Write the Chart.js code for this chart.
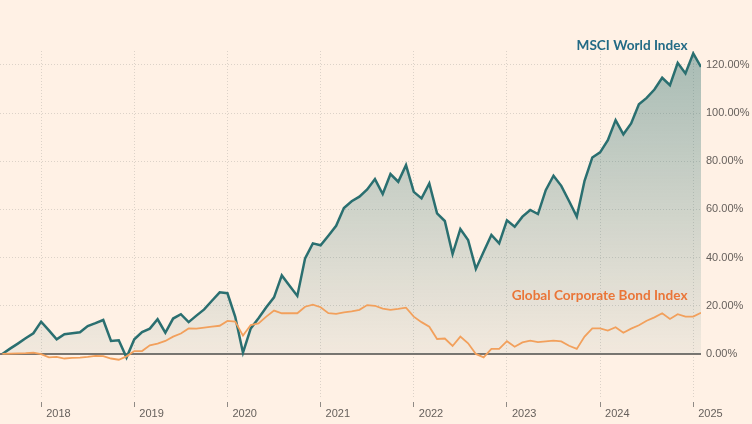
<!DOCTYPE html>
<html>
<head>
<meta charset="utf-8">
<script src="https://cdn.jsdelivr.net/npm/chart.js@4/dist/chart.umd.min.js"></script>
<style>
html,body{margin:0;padding:0;background:#FFF1E5;}
#wrap{width:752px;height:424px;}
</style>
</head>
<body>
<div id="wrap"><canvas id="c" width="752" height="424"></canvas></div>
<script>
// Month-end observations, Jul 2017 – Jan 2025
const months = [];
(function(){ let y=2017, m=7; for (let i=0;i<91;i++){ months.push(y+'-'+String(m).padStart(2,'0')); m++; if(m>12){m=1;y++;} } })();

// Cumulative return, % (MSCI World Index)
const msci = [
  0, 2.2, 4.3, 6.5, 8.6, 13.4, 9.8, 6.1, 8.2, 8.6, 9.0, 11.6,
  12.8, 14.1, 5.4, 5.7, -1.5, 6.1, 9.1, 10.5, 14.4, 8.8, 14.7, 16.5,
  13.2, 15.9, 18.5, 22.1, 25.6, 25.2, 15.4, 0.5, 10.6, 14.8, 19.4, 23.5,
  32.6, 28.3, 24.1, 39.7, 45.9, 45.1, 49.1, 53.2, 60.6, 63.4, 65.3, 68.3,
  72.6, 66.4, 74.7, 71.5, 78.4, 67.3, 64.6, 70.8, 58.4, 55.2, 41.5, 51.9,
  47.3, 35.3, 42.4, 49.4, 45.9, 55.5, 52.8, 57.0, 59.8, 58.1, 68.0, 74.0,
  69.8, 63.5, 57.0, 71.9, 81.6, 83.7, 88.8, 97.1, 91.2, 95.7, 103.7, 106.3,
  109.8, 114.7, 111.6, 120.9, 116.5, 124.8, 119.2
];

// Cumulative return, % (Global Corporate Bond Index)
const bond = [
  0, 0.1, 0.2, 0.3, 0.5, -0.1, -1.4, -1.2, -1.9, -1.6, -1.5, -1.2,
  -0.8, -0.9, -1.9, -2.4, -1.0, 1.2, 1.2, 3.6, 4.3, 5.4, 7.2, 8.5,
  10.6, 10.5, 10.9, 11.3, 11.7, 13.7, 13.4, 7.6, 12.0, 12.7, 15.5, 18.0,
  16.9, 16.9, 16.9, 19.6, 20.5, 19.4, 16.9, 16.6, 17.3, 17.7, 18.3, 20.3,
  20.0, 18.8, 18.3, 18.7, 19.2, 15.5, 13.2, 11.3, 6.2, 6.4, 3.3, 7.2,
  4.4, 0.0, -1.4, 2.1, 2.1, 5.3, 3.0, 4.8, 5.5, 4.9, 5.2, 5.5,
  5.2, 3.4, 2.1, 7.2, 10.6, 10.6, 9.7, 11.1, 8.8, 10.5, 11.9, 13.8,
  15.2, 16.9, 14.5, 16.5, 15.5, 15.5, 17.1
];

const yearLabels = ['2018','2019','2020','2021','2022','2023','2024','2025'];
const yTickValues = [0, 20, 40, 60, 80, 100, 120];
const seriesNames = ['MSCI World Index', 'Global Corporate Bond Index'];

const teal = '#2A6F70';
const orange = '#F2A05C';

// year boundary ticks sit at the December month-end of the previous year
const yearTickPos = yearLabels.map(y => months.indexOf((+y - 1) + '-12'));

const labelPlugin = {
  id: 'seriesLabels',
  afterDatasetsDraw(chart) {
    const c = chart.ctx;
    const xs = chart.scales.x, ys = chart.scales.y;
    c.save();
    c.font = 'bold 13.6px Lato';
    c.textAlign = 'right';
    c.textBaseline = 'middle';
    const xr = xs.getPixelForValue(88) + 2;
    c.fillStyle = '#236A85';
    c.fillText(seriesNames[0], xr, ys.getPixelForValue(128.2));
    c.fillStyle = '#EA7538';
    c.fillText(seriesNames[1], xr, ys.getPixelForValue(24.2));
    c.restore();
  }
};

new Chart(document.getElementById('c'), {
  type: 'line',
  data: {
    datasets: [
      {
        label: seriesNames[1],
        data: bond.map((v, i) => ({x: i, y: v})),
        borderColor: orange,
        borderWidth: 1.8,
        pointRadius: 0,
        fill: false,
        tension: 0,
        order: 1
      },
      {
        label: seriesNames[0],
        data: msci.map((v, i) => ({x: i, y: v})),
        borderColor: teal,
        borderWidth: 2.5,
        pointRadius: 0,
        tension: 0,
        fill: 'origin',
        order: 2,
        backgroundColor: (ctx) => {
          const chart = ctx.chart;
          if (!chart.chartArea) return 'rgba(0,0,0,0)';
          const y = chart.scales.y;
          const g = chart.ctx.createLinearGradient(0, y.getPixelForValue(125), 0, y.getPixelForValue(0));
          g.addColorStop(0, 'rgba(38,108,108,0.40)');
          g.addColorStop(1, 'rgba(38,108,108,0.06)');
          return g;
        }
      }
    ]
  },
  options: {
    responsive: false,
    animation: false,
    devicePixelRatio: 1,
    layout: { padding: { top: 51, left: 0, right: 0, bottom: 0 } },
    plugins: { legend: { display: false }, tooltip: { enabled: false } },
    scales: {
      x: {
        type: 'linear',
        min: -0.3,
        max: months.length - 1,
        afterBuildTicks: (s) => { s.ticks = yearTickPos.map(v => ({value: v})); },
        afterFit: (s) => { s.height = 26; },
        ticks: {
          callback: (v) => yearLabels[yearTickPos.indexOf(v)],
          color: '#66605C',
          font: { family: 'Liberation Sans', size: 11 },
          align: 'start',
          labelOffset: 5,
          padding: 0,
          maxRotation: 0,
          autoSkip: false
        },
        grid: {
          color: '#DCD2C8',
          lineWidth: 1,
          drawTicks: true,
          tickLength: 9,
          tickColor: '#8F8A85',
          tickWidth: 1,
          tickBorderDash: [0, 4, 5, 100]
        },
        border: { display: false, dash: [1, 2] }
      },
      y: {
        position: 'right',
        min: -18.3,
        max: 125.8,
        afterBuildTicks: (s) => { s.ticks = yTickValues.map(v => ({value: v})); },
        afterFit: (s) => { s.width = 51; },
        ticks: {
          callback: (v) => v.toFixed(2) + '%',
          color: '#66605C',
          font: { family: 'Liberation Sans', size: 11 },
          padding: 5
        },
        grid: {
          color: (ctx) => ctx.tick && ctx.tick.value === 0 ? '#7A7570' : '#DCD2C8',
          lineWidth: (ctx) => ctx.tick && ctx.tick.value === 0 ? 2 : 1,
          drawTicks: false
        },
        border: {
          display: false,
          dash: (ctx) => ctx.tick && ctx.tick.value === 0 ? [] : [1, 2]
        }
      }
    }
  },
  plugins: [labelPlugin]
});
</script>
</body>
</html>
